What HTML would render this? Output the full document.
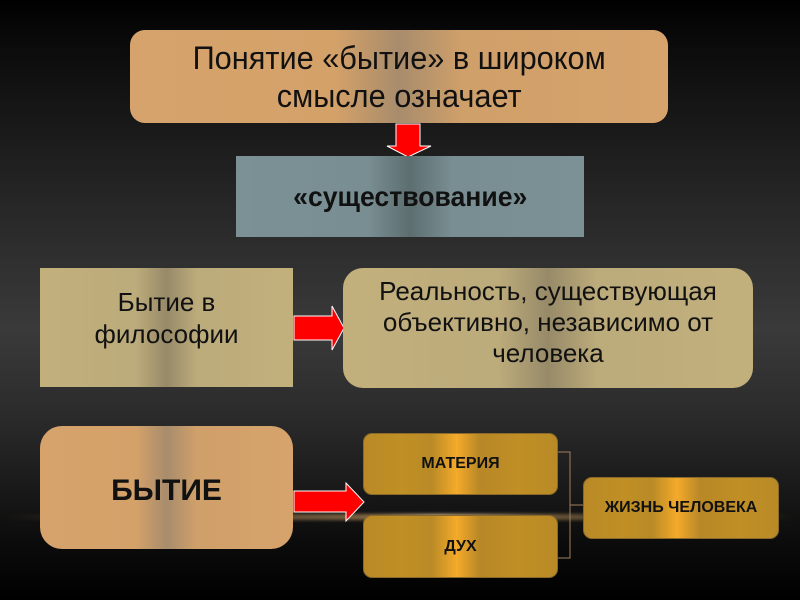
<!DOCTYPE html>
<html><head><meta charset="utf-8"><style>
html,body{margin:0;padding:0}
body{width:800px;height:600px;position:relative;overflow:hidden;
background:linear-gradient(to bottom,#000 0px,#0a0a0a 40px,#262626 200px,#3a3a3a 330px,#2a2a2a 420px,#0c0c0c 540px,#000 600px);
font-family:"Liberation Sans","DejaVu Sans",sans-serif;color:#111}
.b{position:absolute;box-sizing:border-box;display:flex;align-items:center;justify-content:center;text-align:center}
.n{display:inline-block;white-space:nowrap}
.tan{background:linear-gradient(to right,#d6a36c 0%,#d4a169 38%,#a88c6c 50%,#d0a06a 62%,#d6a36c 100%)}
.kh{background:linear-gradient(to right,#c2b07c 0%,#bcab7b 38%,#978a68 50%,#bcab7b 62%,#c2b07c 100%)}
.gr{background:linear-gradient(to right,#7b9196 0%,#788e92 38%,#5d6e70 50%,#788e92 62%,#7b9196 100%)}
.gold{background:linear-gradient(to right,#b98a26 0%,#c08f25 20%,#b98a26 35%,#f4aa2a 48%,#b88727 60%,#c08f25 80%,#b98a26 100%);border:1px solid #8a6a2a;border-radius:9px;font-weight:bold;font-size:16px;color:#111}
.streak{position:absolute;left:0;width:800px;top:514px;height:6px;background:linear-gradient(to right,rgba(0,0,0,0),rgba(230,180,110,.5) 45%,rgba(255,220,170,.8) 55%,rgba(230,180,110,.4) 70%,rgba(0,0,0,0));filter:blur(1.5px)}
</style></head><body>
<div class="streak"></div>
<div class="b tan" style="left:130px;top:30px;width:538px;height:93px;border-radius:15px;font-size:32px;line-height:38px"><span class="n" style="transform:scaleX(.96)">Понятие «бытие» в широком<br>смысле означает</span></div>
<svg style="position:absolute;left:0;top:0" width="800" height="600">
<polygon points="396,124 420,124 420,146 431,146 408,157 387,146 396,146" fill="#f00" stroke="#fff" stroke-width="1"/>
<polygon points="294,316 332,316 332,306 344,328 332,350 332,340 294,340" fill="#f00" stroke="#fff" stroke-width="1"/>
<polygon points="294,491 346,491 346,483 364,502 346,521 346,512 294,512" fill="#f00" stroke="#fff" stroke-width="1"/>
<path d="M557,452 H570 V558 H557 M570,505 H583" fill="none" stroke="#a08060" stroke-width="1"/>
</svg>
<div class="b gr" style="left:236px;top:156px;width:348px;height:81px;font-weight:bold;font-size:28px"><span class="n" style="transform:scaleX(.95)">«существование»</span></div>
<div class="b kh" style="left:40px;top:268px;width:253px;height:119px;font-size:26px;line-height:32px;padding-bottom:20px">Бытие в<br>философии</div>
<div class="b kh" style="left:343px;top:268px;width:410px;height:120px;border-radius:20px;font-size:26px;line-height:31px;align-items:flex-start;padding-top:8px"><span class="n">Реальность, существующая<br>объективно, независимо от<br>человека</span></div>
<div class="b tan" style="left:40px;top:426px;width:253px;height:123px;border-radius:22px;font-weight:bold;font-size:30px;padding-top:6px">БЫТИЕ</div>
<div class="b gold" style="left:363px;top:433px;width:195px;height:62px">МАТЕРИЯ</div>
<div class="b gold" style="left:363px;top:515px;width:195px;height:63px">ДУХ</div>
<div class="b gold" style="left:583px;top:477px;width:196px;height:62px">ЖИЗНЬ ЧЕЛОВЕКА</div>
</body></html>
